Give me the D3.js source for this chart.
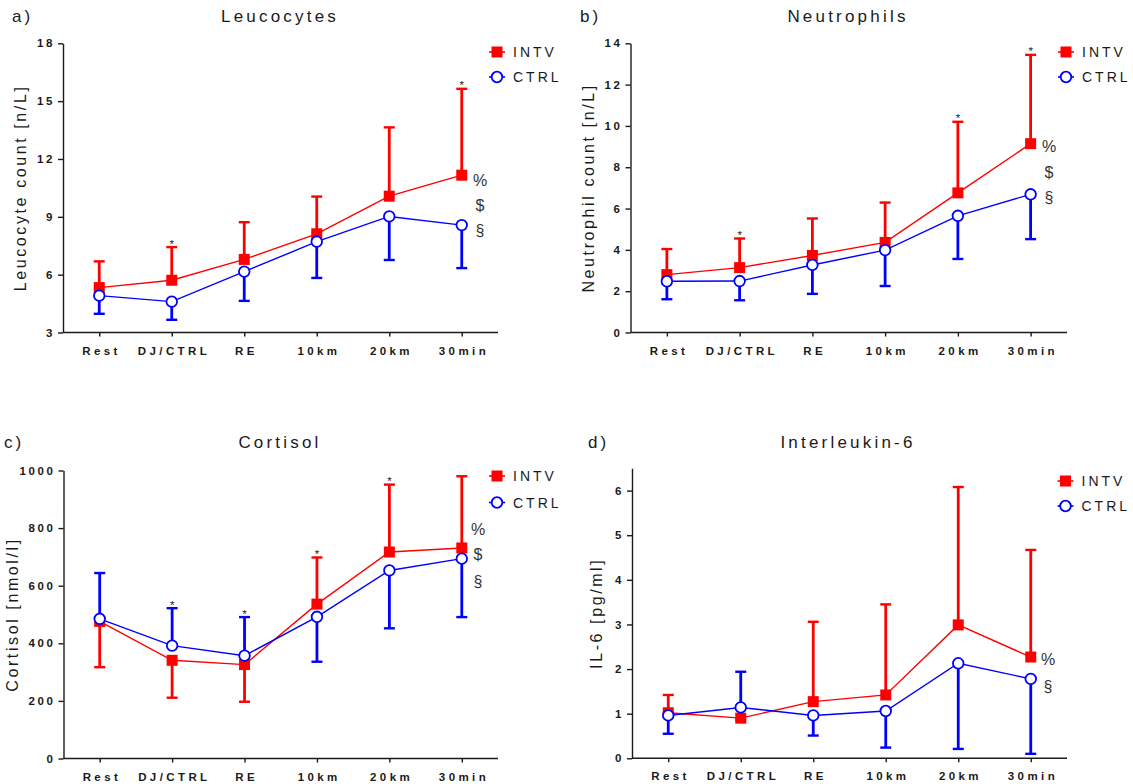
<!DOCTYPE html>
<html>
<head>
<meta charset="utf-8">
<script src="https://cdn.jsdelivr.net/npm/d3@7/dist/d3.min.js"></script>
<style>
  html, body { margin: 0; padding: 0; background: #fff; }
  svg { display: block; font-family: Arial, "Liberation Sans", sans-serif; }
</style>
</head>
<body>
<svg id="fig" width="1133" height="784"></svg>
<script>
// Time points shared by all four panels
const timepoints = ["Rest", "DJ/CTRL", "RE", "10km", "20km", "30min"];

// a) Leucocytes [n/L] — mean and end of the error bar (SD) per time point
const leuIntv    = [5.33, 5.71, 6.79, 8.12, 10.07, 11.16];
const leuIntvBar = [6.69, 7.43, 8.72, 10.05, 13.64, 15.64];
const leuCtrl    = [4.91, 4.60, 6.16, 7.71, 9.02, 8.57];
const leuCtrlBar = [3.97, 3.66, 4.64, 5.83, 6.76, 6.34];
const leuStars   = ["DJ/CTRL", "30min"];
const leuTicks   = [3, 6, 9, 12, 15, 18];
const leuMarks   = ["%", "$", "§"];

// b) Neutrophils [n/L]
const neuIntv    = [2.80, 3.14, 3.73, 4.36, 6.76, 9.14];
const neuIntvBar = [4.04, 4.55, 5.52, 6.29, 10.20, 13.44];
const neuCtrl    = [2.48, 2.49, 3.27, 3.99, 5.65, 6.69];
const neuCtrlBar = [1.61, 1.56, 1.87, 2.25, 3.56, 4.52];
const neuStars   = ["DJ/CTRL", "20km", "30min"];
const neuTicks   = [0, 2, 4, 6, 8, 10, 12, 14];
const neuMarks   = ["%", "$", "§"];

// c) Cortisol [nmol/l]
const corIntv    = [476, 341, 326, 536, 717, 731];
const corIntvBar = [317, 211, 197, 698, 951, 980];
const corCtrl    = [485, 392, 357, 492, 653, 694];
const corCtrlBar = [644, 522, 491, 336, 452, 491];
const corStars   = ["DJ/CTRL", "RE", "10km", "20km"];
const corTicks   = [0, 200, 400, 600, 800, 1000];
const corMarks   = ["%", "$", "§"];

// d) Interleukin-6 [pg/ml]
const il6Intv    = [1.02, 0.90, 1.27, 1.42, 2.99, 2.27];
const il6IntvBar = [1.42, 0.86, 3.06, 3.45, 6.08, 4.67];
const il6Ctrl    = [0.96, 1.14, 0.96, 1.06, 2.13, 1.78];
const il6CtrlBar = [0.55, 1.94, 0.51, 0.24, 0.21, 0.10];
const il6Stars   = [];
const il6Ticks   = [0, 1, 2, 3, 4, 5, 6];
const il6Marks   = ["%", "§"];

const RED = "#ff0000", BLUE = "#0000ff", INK = "#1a1a1a";

const panels = [
  { tag: "a)", title: "Leucocytes", ylabel: "Leucocyte count [n/L]",
    intv: leuIntv, intvBar: leuIntvBar, ctrl: leuCtrl, ctrlBar: leuCtrlBar,
    stars: leuStars, ticks: leuTicks, marks: leuMarks, domain: [3, 18],
    x0: 63, x1: 498, yTop: 43.3, yBot: 332.5,
    titleX: 280, titleY: 16, tagX: 12, ylabelX: 20,
    legX: 497, legY: [52, 77], markX: 480, markY: [180, 205, 230] },
  { tag: "b)", title: "Neutrophils", ylabel: "Neutrophil count [n/L]",
    intv: neuIntv, intvBar: neuIntvBar, ctrl: neuCtrl, ctrlBar: neuCtrlBar,
    stars: neuStars, ticks: neuTicks, marks: neuMarks, domain: [0, 14],
    x0: 630.5, x1: 1067, yTop: 43.3, yBot: 332.5,
    titleX: 848, titleY: 16, tagX: 580, ylabelX: 588.5,
    legX: 1066, legY: [52, 77], markX: 1049, markY: [146, 172, 197] },
  { tag: "c)", title: "Cortisol", ylabel: "Cortisol [nmol/l]",
    intv: corIntv, intvBar: corIntvBar, ctrl: corCtrl, ctrlBar: corCtrlBar,
    stars: corStars, ticks: corTicks, marks: corMarks, domain: [0, 1000],
    x0: 63.5, x1: 498, yTop: 470.5, yBot: 758.5,
    titleX: 280, titleY: 442, tagX: 4, ylabelX: 12,
    legX: 497, legY: [476, 502.5], markX: 478, markY: [529, 554, 581] },
  { tag: "d)", title: "Interleukin-6", ylabel: "IL-6 [pg/ml]",
    intv: il6Intv, intvBar: il6IntvBar, ctrl: il6Ctrl, ctrlBar: il6CtrlBar,
    stars: il6Stars, ticks: il6Ticks, marks: il6Marks, domain: [0, 6.5],
    x0: 632, x1: 1067, yTop: 468.3, yBot: 758.3,
    titleX: 848, titleY: 442, tagX: 588, ylabelX: 596,
    legX: 1065.5, legY: [481, 506], markX: 1048, markY: [659, 686] }
];

const svg = d3.select("#fig");

panels.forEach(p => {
  const g = svg.append("g");
  const x = d3.scalePoint().domain(timepoints).range([p.x0, p.x1]).padding(0.5);
  const y = d3.scaleLinear().domain(p.domain).range([p.yBot, p.yTop]);

  // panel tag and title
  g.append("text").attr("x", p.tagX).attr("y", p.titleY)
    .attr("dominant-baseline", "central")
    .style("font-size", "17px").style("letter-spacing", "3px").attr("fill", INK)
    .text(p.tag);
  g.append("text").attr("x", p.titleX).attr("y", p.titleY)
    .attr("dominant-baseline", "central").attr("text-anchor", "middle")
    .style("font-size", "17px").style("letter-spacing", "3.2px").attr("fill", INK)
    .text(p.title);

  // y axis
  const ya = g.append("g").attr("transform", `translate(${p.x0},0)`)
    .call(d3.axisLeft(y).tickValues(p.ticks).tickFormat(d3.format("d"))
      .tickSize(5).tickPadding(3).tickSizeOuter(0));
  ya.select(".domain").attr("stroke", INK).attr("stroke-width", 1.4);
  ya.selectAll(".tick line").attr("stroke", INK).attr("stroke-width", 1.4);
  ya.selectAll(".tick text").attr("fill", INK)
    .style("font-size", "11.5px").style("font-weight", "bold")
    .style("letter-spacing", "2.6px").style("font-family", "Arial, 'Liberation Sans', sans-serif");

  // x axis
  const xa = g.append("g").attr("transform", `translate(0,${p.yBot})`)
    .call(d3.axisBottom(x).tickSize(4).tickPadding(10).tickSizeOuter(0));
  xa.select(".domain").attr("stroke", INK).attr("stroke-width", 1.4)
    .attr("d", `M${p.x0},0H${p.x1}`);
  xa.selectAll(".tick line").attr("stroke", INK).attr("stroke-width", 1.4);
  xa.selectAll(".tick text").attr("fill", INK).attr("dx", "1.7px")
    .style("font-size", "11.5px").style("font-weight", "bold")
    .style("letter-spacing", "3.4px").style("font-family", "Arial, 'Liberation Sans', sans-serif");

  // y axis title
  const yMid = (p.yTop + p.yBot) / 2;
  g.append("text")
    .attr("transform", `translate(${p.ylabelX},${yMid}) rotate(-90)`)
    .attr("text-anchor", "middle").attr("dominant-baseline", "central")
    .style("font-size", "16px").style("letter-spacing", "2.6px").attr("fill", INK)
    .text(p.ylabel);

  const series = [
    { key: "INTV", vals: p.intv, bars: p.intvBar, color: RED, shape: "square" },
    { key: "CTRL", vals: p.ctrl, bars: p.ctrlBar, color: BLUE, shape: "circle" }
  ];

  const line = d3.line().x((d, i) => x(timepoints[i])).y(d => y(d));

  // connecting lines
  series.forEach(s => {
    g.append("path").datum(s.vals).attr("d", line)
      .attr("fill", "none").attr("stroke", s.color).attr("stroke-width", 1.4);
  });

  // one-sided error bars
  series.forEach(s => {
    const eb = g.append("g");
    s.vals.forEach((v, i) => {
      const cx = x(timepoints[i]);
      eb.append("line").attr("x1", cx).attr("x2", cx)
        .attr("y1", y(v)).attr("y2", y(s.bars[i]))
        .attr("stroke", s.color).attr("stroke-width", 2.8);
      eb.append("line").attr("x1", cx - 5.5).attr("x2", cx + 5.5)
        .attr("y1", y(s.bars[i])).attr("y2", y(s.bars[i]))
        .attr("stroke", s.color).attr("stroke-width", 2.4);
    });
  });

  // markers
  const drawMarker = (sel, s, cx, cy) => {
    if (s.shape === "square") {
      sel.append("rect").attr("x", cx - 5.5).attr("y", cy - 5.5)
        .attr("width", 11).attr("height", 11).attr("fill", s.color);
    } else {
      sel.append("circle").attr("cx", cx).attr("cy", cy).attr("r", 5.3)
        .attr("fill", "#fff").attr("stroke", s.color).attr("stroke-width", 1.8);
    }
  };
  series.forEach(s => {
    const mg = g.append("g");
    s.vals.forEach((v, i) => drawMarker(mg, s, x(timepoints[i]), y(v)));
  });

  // significance stars above the highest bar end
  p.stars.forEach(t => {
    const i = timepoints.indexOf(t);
    const top = Math.max(p.intvBar[i], p.ctrlBar[i], p.intv[i], p.ctrl[i]);
    g.append("text").attr("x", x(t)).attr("y", y(top) + 0.5)
      .attr("text-anchor", "middle").style("font-size", "11.5px")
      .attr("fill", "#222").text("*");
  });

  // main-effect symbols next to the last time point
  p.marks.forEach((m, k) => {
    g.append("text").attr("x", p.markX).attr("y", p.markY[k])
      .attr("text-anchor", "middle").attr("dominant-baseline", "central")
      .style("font-size", "16px").attr("fill", "#333").text(m);
  });

  // legend
  series.forEach((s, k) => {
    const ly = p.legY[k];
    const lg = g.append("g");
    lg.append("line").attr("x1", p.legX - 8).attr("x2", p.legX + 8)
      .attr("y1", ly).attr("y2", ly).attr("stroke", s.color).attr("stroke-width", 1.6);
    drawMarker(lg, s, p.legX, ly);
    lg.append("text").attr("x", p.legX + 16).attr("y", ly)
      .attr("dominant-baseline", "central")
      .style("font-size", "14px").style("letter-spacing", "3px").attr("fill", INK)
      .text(s.key);
  });
});
</script>
</body>
</html>
